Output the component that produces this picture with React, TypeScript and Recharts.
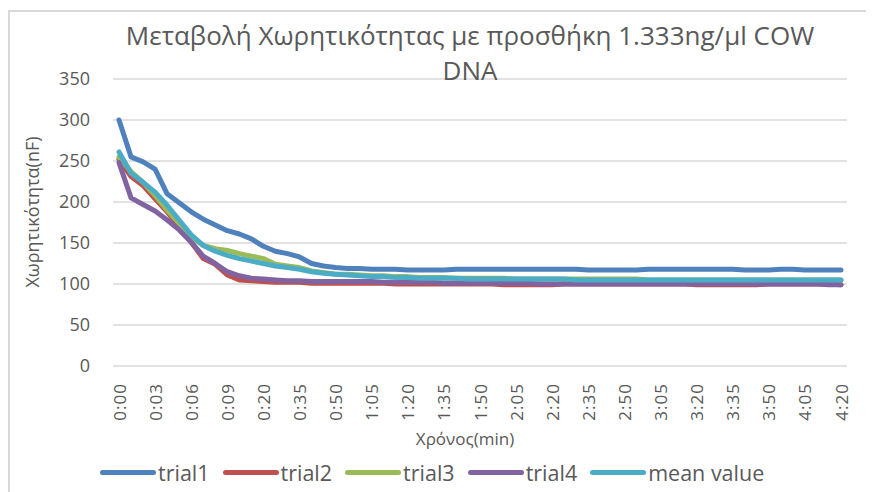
import React from "react";
import { LineChart, Line, XAxis, YAxis, CartesianGrid, Legend } from "recharts";

const times = [
  "0:00", "0:01", "0:02", "0:03", "0:04", "0:05", "0:06", "0:07", "0:08", "0:09",
  "0:10", "0:15", "0:20", "0:25", "0:30", "0:35", "0:40", "0:45", "0:50", "0:55",
  "1:00", "1:05", "1:10", "1:15", "1:20", "1:25", "1:30", "1:35", "1:40", "1:45",
  "1:50", "1:55", "2:00", "2:05", "2:10", "2:15", "2:20", "2:25", "2:30", "2:35",
  "2:40", "2:45", "2:50", "2:55", "3:00", "3:05", "3:10", "3:15", "3:20", "3:25",
  "3:30", "3:35", "3:40", "3:45", "3:50", "3:55", "4:00", "4:05", "4:10", "4:15",
  "4:20",
];

const trial1 = [
  300, 255, 249, 240, 210, 199, 188, 179, 172, 165,
  161, 155, 146, 140, 137, 133, 125, 122, 120, 119,
  119, 118, 118, 118, 117, 117, 117, 117, 118, 118,
  118, 118, 118, 118, 118, 118, 118, 118, 118, 117,
  117, 117, 117, 117, 118, 118, 118, 118, 118, 118,
  118, 118, 117, 117, 117, 118, 118, 117, 117, 117,
  117,
];

const trial2 = [
  252, 231, 220, 204, 188, 170, 151, 131, 124, 111,
  105, 104, 103, 102, 102, 102, 101, 101, 101, 101,
  101, 101, 101, 100, 100, 100, 100, 100, 100, 100,
  100, 100, 99, 99, 99, 99, 99, 100, 100, 100,
  100, 100, 100, 100, 100, 100, 100, 100, 99, 99,
  99, 99, 99, 99, 100, 100, 100, 100, 100, 100,
  99,
];

const trial3 = [
  255, 237, 224, 208, 190, 174, 157, 147, 143, 141,
  137, 134, 131, 124, 122, 120, 116, 114, 112, 112,
  111, 110, 110, 109, 109, 108, 108, 108, 107, 107,
  107, 107, 107, 106, 106, 106, 106, 106, 106, 106,
  106, 106, 106, 106, 105, 105, 105, 105, 105, 105,
  105, 105, 105, 105, 105, 105, 105, 105, 105, 105,
  105,
];

const trial4 = [
  248, 205, 197, 189, 178, 166, 151, 134, 125, 115,
  110, 107, 106, 105, 104, 104, 103, 103, 103, 103,
  103, 103, 102, 102, 102, 102, 102, 101, 101, 101,
  101, 101, 101, 101, 101, 100, 100, 100, 100, 100,
  100, 100, 100, 100, 100, 100, 100, 100, 100, 100,
  100, 100, 100, 100, 100, 100, 100, 100, 100, 99,
  99,
];

const meanValue = [
  261, 235, 224, 212, 196, 178, 160, 147, 140, 135,
  131, 128, 125, 122, 120, 118, 115, 113, 112, 111,
  110, 109, 109, 108, 108, 107, 107, 107, 107, 106,
  106, 106, 106, 106, 106, 106, 106, 106, 105, 105,
  105, 105, 105, 105, 105, 105, 105, 105, 105, 105,
  105, 105, 105, 105, 105, 105, 105, 105, 105, 105,
  105,
];

const seriesNames = ["trial1", "trial2", "trial3", "trial4", "mean value"];
const yTicks = [0, 50, 100, 150, 200, 250, 300, 350];

const titleLine1 = "Μεταβολή Χωρητικότητας με προσθήκη 1.333ng/μl COW";
const titleLine2 = "DNA";
const xTitle = "Χρόνος(min)";
const yTitle = "Χωρητικότητα(nF)";

const data = times.map((t, i) => ({
  time: t,
  trial1: trial1[i],
  trial2: trial2[i],
  trial3: trial3[i],
  trial4: trial4[i],
  mean: meanValue[i],
}));

const TEXT = "#595959";

const XTick = (props: any) => {
  const { x, y, payload } = props;
  const yy = y + 17;
  return (
    <text
      x={x}
      y={yy}
      transform={`rotate(-90 ${x} ${yy})`}
      textAnchor="end"
      dominantBaseline="central"
      fill={TEXT}
      fontSize={17}
      letterSpacing={1}
    >
      {payload.value}
    </text>
  );
};

const renderLegend = (props: any) => {
  const items = [...(props.payload || [])].sort(
    (a: any, b: any) => seriesNames.indexOf(a.value) - seriesNames.indexOf(b.value)
  );
  return (
    <div
      style={{
        display: "flex",
        alignItems: "center",
        height: 30,
        paddingLeft: 92,
        fontSize: 21.5,
        color: TEXT,
      }}
    >
      {items.map((p: any) => (
        <div key={p.value} style={{ display: "flex", alignItems: "center", marginRight: 13 }}>
          <div style={{ width: 56, height: 5, borderRadius: 3, background: p.color }} />
          <span style={{ marginLeft: 2 }}>{p.value}</span>
        </div>
      ))}
    </div>
  );
};

export default function App() {
  return (
    <div
      style={{
        position: "relative",
        width: 866,
        height: 484,
        overflow: "hidden",
        fontFamily: "'Open Sans', sans-serif",
        background: "#fff",
      }}
    >
      <div
        style={{
          position: "absolute",
          left: 0,
          top: 2,
          width: 1000,
          height: 1000,
          borderLeft: "2px solid #d9d9d9",
          borderTop: "2px solid #d9d9d9",
          boxSizing: "border-box",
        }}
      />
      <LineChart
        width={866}
        height={484}
        data={data}
        margin={{ top: 71, right: 27, bottom: 5, left: 0 }}
      >
        <CartesianGrid vertical={false} stroke="#d9d9d9" strokeWidth={1.5} />
        <XAxis
          dataKey="time"
          interval={2}
          tickLine={false}
          axisLine={false}
          tickSize={0}
          tickMargin={0}
          height={91}
          padding={{ left: 6, right: 6 }}
          tick={<XTick />}
        />
        <YAxis
          width={105}
          domain={[0, 350]}
          ticks={yTicks}
          tickLine={false}
          axisLine={false}
          tickSize={0}
          tickMargin={23}
          tick={{ fill: TEXT, fontSize: 18 }}
        />
        <Legend verticalAlign="bottom" height={30} content={renderLegend} />
        <Line type="linear" dataKey="trial1" name={seriesNames[0]} stroke="#4F81BD" strokeWidth={5} dot={false} isAnimationActive={false} strokeLinecap="round" strokeLinejoin="round" />
        <Line type="linear" dataKey="trial2" name={seriesNames[1]} stroke="#C0504D" strokeWidth={5} dot={false} isAnimationActive={false} strokeLinecap="round" strokeLinejoin="round" />
        <Line type="linear" dataKey="trial3" name={seriesNames[2]} stroke="#9BBB59" strokeWidth={5} dot={false} isAnimationActive={false} strokeLinecap="round" strokeLinejoin="round" />
        <Line type="linear" dataKey="trial4" name={seriesNames[3]} stroke="#8064A2" strokeWidth={5} dot={false} isAnimationActive={false} strokeLinecap="round" strokeLinejoin="round" />
        <Line type="linear" dataKey="mean" name={seriesNames[4]} stroke="#4BACC6" strokeWidth={5} dot={false} isAnimationActive={false} strokeLinecap="round" strokeLinejoin="round" />
      </LineChart>
      <div
        style={{
          position: "absolute",
          left: 62,
          top: 10,
          width: 800,
          textAlign: "center",
          fontSize: 26,
          lineHeight: "35px",
          color: TEXT,
          pointerEvents: "none",
        }}
      >
        <div>{titleLine1}</div>
        <div>{titleLine2}</div>
      </div>
      <div
        style={{
          position: "absolute",
          left: 24 - 150,
          top: 204 - 12,
          width: 300,
          height: 24,
          lineHeight: "24px",
          textAlign: "center",
          fontSize: 18,
          color: TEXT,
          transform: "rotate(-90deg)",
          pointerEvents: "none",
        }}
      >
        {yTitle}
      </div>
      <div
        style={{
          position: "absolute",
          left: 357,
          top: 420,
          width: 200,
          lineHeight: "22px",
          textAlign: "center",
          fontSize: 17,
          color: TEXT,
          pointerEvents: "none",
        }}
      >
        {xTitle}
      </div>
    </div>
  );
}
